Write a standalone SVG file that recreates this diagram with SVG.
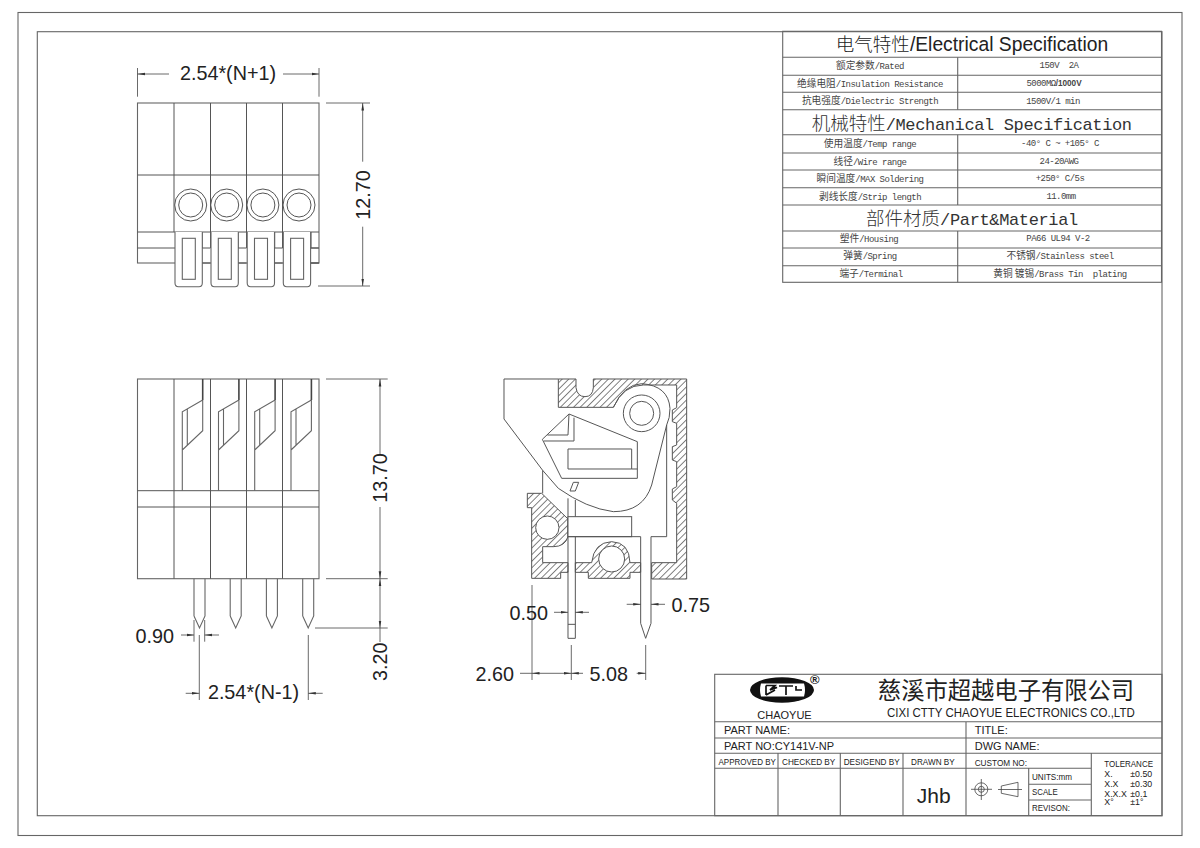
<svg xmlns="http://www.w3.org/2000/svg" width="1200" height="848" viewBox="0 0 1200 848">
<style>
.l{fill:none;stroke:#555;stroke-width:1}
.t{fill:none;stroke:#666;stroke-width:1.1}
.f{fill:#fff;stroke:#666;stroke-width:1.1}
.k{fill:none;stroke:#444;stroke-width:1.6}
.d{fill:none;stroke:#444;stroke-width:.8}
.da{fill:none;stroke:#444;stroke-width:.8;marker-end:url(#ar)}
.w{fill:#fff;stroke:#555;stroke-width:3}
.wn{fill:none;stroke:#555;stroke-width:3}
.hz{fill:url(#hatch);stroke:#555;stroke-width:3}
text{font-family:"Liberation Sans","Noto Sans CJK SC",sans-serif;fill:#222}
.dim{font-size:19.8px}
.r{font-family:"Liberation Mono","Noto Sans CJK SC",monospace;font-size:9px;letter-spacing:-.53px;text-anchor:middle;fill:#444}
.r .c{font-family:"Noto Sans CJK SC",sans-serif;font-size:9.7px;letter-spacing:0}
.r .b{font-family:"Liberation Sans",sans-serif;font-weight:bold;font-size:8.2px;letter-spacing:0}
.h{text-anchor:middle}
.h .c{font-family:"Noto Sans CJK SC",sans-serif;font-size:18.5px;font-weight:300;letter-spacing:0}
.hs{font-family:"Liberation Sans","Noto Sans CJK SC",sans-serif;font-size:19.3px}
.hm{font-family:"Liberation Mono","Noto Sans CJK SC",monospace;font-size:17px;letter-spacing:-.36px;fill:#333}
.s{font-size:11px}
.x{font-size:8.8px}
</style>
<defs>
<marker id="ar" markerUnits="userSpaceOnUse" markerWidth="8" markerHeight="4" refX="7.5" refY="2" orient="auto"><path d="M0 0.7L7.5 2L0 3.3z" fill="#333"/></marker>
<pattern id="hatch" patternUnits="userSpaceOnUse" width="14" height="14" patternTransform="rotate(-45)"><rect width="14" height="14" fill="#fff"/><line x1="0" y1="1.2" x2="14" y2="1.2" stroke="#555" stroke-width="2.4"/></pattern>
<g id="tab">
<path class="f" d="M175 232V283Q175 286.7 178.5 286.7H199Q202.3 286.7 202.3 283V232"/>
<rect class="t" x="182.3" y="238.3" width="13" height="41"/>
<path class="l" d="M202.3 248H210.5M202.3 263H210.5"/>
<circle class="l" cx="190.7" cy="205" r="16"/>
<circle class="l" cx="190.7" cy="205" r="12"/>
</g>
<g id="spr">
<path class="k" d="M202.7 379V400"/>
<path class="t" d="M202.7 400L182.3 411.7V490.7M202.7 400V430.7L182.3 450M187.3 409V445"/>
<path class="t" d="M194 616V578.7M205 578.7V616L199.5 628L194 616"/>
</g>
</defs>

<g id="frame">
<rect class="t" x="18" y="12.5" width="1164" height="823"/>
<rect class="t" x="37.3" y="31.7" width="1124.7" height="784"/>
</g>

<g id="top-view">
<rect class="t" x="137.5" y="103" width="181.5" height="160"/>
<path class="l" d="M174 103V232M210.5 103V248M246.5 103V248M282.5 103V248M137.5 175H319M137.5 232H319M137.5 248H175"/>
<path class="l" d="M202.3 232V248M238.3 232V248M274.7 232V248M311 232V248H319M311 263H319"/>
<use href="#tab"/>
<use href="#tab" x="36"/>
<use href="#tab" x="72.2"/>
<use href="#tab" x="108.3"/>
</g>

<g id="front-view">
<rect class="t" x="137.5" y="379" width="181.5" height="199.7"/>
<path class="l" d="M174 379V578.7M210.5 379V578.7M246.5 379V578.7M282.5 379V578.7M137.5 490.7H319M137.5 507H319"/>
<use href="#spr"/>
<use href="#spr" x="36.2"/>
<use href="#spr" x="72.4"/>
<use href="#spr" x="108.7"/>
</g>

<g id="section" transform="translate(470 365) scale(.33333)">
<path class="wn" d="M265 42H102V162L218 316"/>
<path class="hz" d="M265 42H318V68Q322 95 345 95Q368 95 370 68V42H650V642H545V593H620V415L607 405V372L620 365V290L607 285V245L620 240V175L607 170V135L620 128V60H520Q460 60 430 127H265Z"/>
<path class="hz" d="M172 385H215L294 462V515Q285 545 250 545H218V593H294V622H272V640H185V428H172Z"/>
<path class="hz" d="M316 593H365Q372 532 425 530Q478 532 480 593H512V622H480V640H355V622H316Z"/>
<circle class="w" cx="232" cy="488" r="35"/>
<circle class="w" cx="425" cy="582" r="39"/>
<path class="wn" d="M430 127Q462 58 515 56Q595 62 600 130Q600 160 590 180L545 360Q520 440 430 440Q350 430 265 370L218 316V385"/>
<circle class="wn" cx="515" cy="145" r="55"/>
<circle class="wn" cx="515" cy="145" r="36"/>
<path class="wn" d="M297 147L502 230V340H275L217 223Z"/>
<path class="wn" d="M297 147L294 210H232M312 158V228H222"/>
<path class="wn" d="M294 252H485V312H294ZM485 312H502"/>
<path class="wn" d="M310 352H326L316 378H300Z"/>
<path class="wn" d="M294 400V820H316V405M294 778H316"/>
<rect class="w" x="294" y="455" width="191" height="60"/>
<path class="wn" d="M294 515H485" stroke-width="5"/>
<path class="wn" d="M485 515H512V775L527 820L543 775V515H590V180"/>
</g>

<g id="dimensions">
<path class="d" d="M137.5 68V96.7M319 68V96.7M326 103H370M318 286H370M326 379H387.7M326 578.7H387.7M315 628H387.7"/>
<path class="da" d="M169 74H137.5"/><path class="da" d="M283 74H319"/>
<path class="da" d="M362.7 161.7V103"/><path class="da" d="M362.7 226.7V286"/>
<path class="da" d="M380 455V379"/>
<path class="da" d="M380 507V578.7"/>
<path class="da" d="M380 603V578.7"/><path class="da" d="M380 603V628"/><path class="d" d="M380 628V642"/>
<path class="d" d="M194 620V641.7M204.7 620V641.7M199.3 635V700M308.3 635V700"/>
<path class="da" d="M181 635H194"/><path class="da" d="M219 635H204.7"/>
<path class="da" d="M185.7 693.3H199.3"/><path class="da" d="M322.7 693.3H308.3"/>
<path class="d" d="M532 585V680M571.3 645V680M645.7 645V680"/>
<path class="da" d="M554 612.3H568"/><path class="da" d="M589 612.3H575.3"/>
<path class="da" d="M626.7 604.3H640.7"/><path class="da" d="M665 604.3H651"/>
<path class="d" d="M520 673.3H532"/><path class="da" d="M551 673.3H532"/><path class="da" d="M551 673.3H571.3"/>
<path class="da" d="M583 673.3H571.3"/><path class="da" d="M636.7 673.3H645.7"/>
<text class="dim" x="228" y="80" text-anchor="middle">2.54*(N+1)</text>
<text class="dim" transform="translate(369.5 195) rotate(-90)" text-anchor="middle">12.70</text>
<text class="dim" transform="translate(387 478) rotate(-90)" text-anchor="middle">13.70</text>
<text class="dim" transform="translate(387 661.7) rotate(-90)" text-anchor="middle">3.20</text>
<text class="dim" x="135.5" y="643">0.90</text>
<text class="dim" x="253.5" y="698.5" text-anchor="middle">2.54*(N-1)</text>
<text class="dim" x="509.5" y="619.5">0.50</text>
<text class="dim" x="671.5" y="611.5">0.75</text>
<text class="dim" x="475.5" y="680.5">2.60</text>
<text class="dim" x="589.5" y="680.5">5.08</text>
</g>

<g id="spec-table">
<rect class="t" x="782.7" y="31.3" width="378.8" height="251"/>
<path class="t" d="M782.7 57.3H1161.5M782.7 75.3H1161.5M782.7 92.3H1161.5M782.7 109.7H1161.5M782.7 134.7H1161.5M782.7 153H1161.5M782.7 170H1161.5M782.7 187.7H1161.5M782.7 205H1161.5M782.7 231H1161.5M782.7 248H1161.5M782.7 265.7H1161.5"/>
<path class="t" d="M957.7 57.3V109.7M957.7 134.7V205M957.7 231V282.3"/>
<text class="h hs" x="972" y="51"><tspan class="c">电气特性</tspan>/Electrical Specification</text>
<text class="h hm" x="971.7" y="129.5"><tspan class="c">机械特性</tspan>/Mechanical Specification</text>
<text class="h hm" x="972" y="224.5"><tspan class="c">部件材质</tspan>/Part&amp;Material</text>
<text class="r" x="870" y="69"><tspan class="c">额定参数</tspan>/Rated</text>
<text class="r" x="1059" y="68">150V&#160;&#160;2A</text>
<text class="r" x="870" y="87"><tspan class="c">绝缘电阻</tspan>/Insulation Resistance</text>
<text class="r" x="1054" y="86">5000MΩ<tspan class="b">/1000V</tspan></text>
<text class="r" x="870" y="104"><tspan class="c">抗电强度</tspan>/Dielectric Strength</text>
<text class="r" x="1053" y="103.5">1500V/1 min</text>
<text class="r" x="870" y="147"><tspan class="c">使用温度</tspan>/Temp range</text>
<text class="r" x="1060" y="146">-40° C ~ +105° C</text>
<text class="r" x="870" y="164.5"><tspan class="c">线径</tspan>/Wire range</text>
<text class="r" x="1059" y="163.5">24-20AWG</text>
<text class="r" x="870" y="182"><tspan class="c">瞬间温度</tspan>/MAX Soldering</text>
<text class="r" x="1060" y="181">+250° C/5s</text>
<text class="r" x="870" y="199.5"><tspan class="c">剥线长度</tspan>/Strip length</text>
<text class="r" x="1061" y="198.5">11.0mm</text>
<text class="r" x="869" y="241.5"><tspan class="c">塑件</tspan>/Housing</text>
<text class="r" x="1058" y="240.5">PA66 UL94 V-2</text>
<text class="r" x="870" y="259"><tspan class="c">弹簧</tspan>/Spring</text>
<text class="r" x="1060" y="259"><tspan class="c">不锈钢</tspan>/Stainless steel</text>
<text class="r" x="871" y="276.5"><tspan class="c">端子</tspan>/Terminal</text>
<text class="r" x="1060" y="276.5"><tspan class="c">黄铜 镀锡</tspan>/Brass Tin&#160;&#160;plating</text>
</g>

<g id="title-block">
<rect class="t" x="714.7" y="674.3" width="447.3" height="141.4"/>
<path class="t" d="M714.7 721.7H1162M714.7 738H1162M714.7 753.3H1162M714.7 768.3H966M778 753.3V815.7M840.3 753.3V815.7M903 753.3V815.7M966 721.7V815.7M1091.3 753.3V815.7M1028.7 768.3V815.7M966 768.3H1091.3M1028.7 784.3H1091.3M1028.7 800H1091.3"/>
<g id="logo">
<ellipse cx="782" cy="690" rx="32" ry="12.8" fill="#111"/>
<path d="M761 683.5H804Q806 690 804 696.5H761Q759 690 761 683.5Z" fill="#fff"/>
<path d="M766 685.5V695M766 685.5H775L770 690L777 687.5H772M766 695L775 690M779 686H793M786 686V695M796 686V690H802" fill="none" stroke="#111" stroke-width="1.7"/>
<text x="814.7" y="684" font-size="13" text-anchor="middle" font-weight="bold">®</text>
</g>
<text x="784.5" y="719" font-size="11" text-anchor="middle">CHAOYUE</text>
<text x="1006" y="699" font-size="23.3" text-anchor="middle" style="font-family:'Noto Sans CJK SC',sans-serif">慈溪市超越电子有限公司</text>
<text x="887" y="717" font-size="12.5" textLength="247.7" lengthAdjust="spacingAndGlyphs">CIXI CTTY CHAOYUE ELECTRONICS CO.,LTD</text>
<text class="s" x="724" y="734">PART NAME:</text>
<text class="s" x="974.7" y="734">TITLE:</text>
<text class="s" x="724" y="750">PART NO:CY141V-NP</text>
<text class="s" x="974.7" y="750">DWG NAME:</text>
<text class="x" x="718.5" y="764.7" textLength="57.3" lengthAdjust="spacingAndGlyphs">APPROVED BY</text>
<text class="x" x="782" y="764.7" textLength="53.3" lengthAdjust="spacingAndGlyphs">CHECKED BY</text>
<text class="x" x="843.7" y="764.7" textLength="56" lengthAdjust="spacingAndGlyphs">DESIGEND BY</text>
<text class="x" x="911" y="764.7" textLength="43.7" lengthAdjust="spacingAndGlyphs">DRAWN BY</text>
<text class="x" x="974.7" y="765.7" textLength="52.3" lengthAdjust="spacingAndGlyphs">CUSTOM NO:</text>
<text class="x" x="1032" y="780" textLength="40" lengthAdjust="spacingAndGlyphs">UNITS:mm</text>
<text class="x" x="1032" y="795.3" textLength="25.7" lengthAdjust="spacingAndGlyphs">SCALE</text>
<text class="x" x="1032" y="811" textLength="38" lengthAdjust="spacingAndGlyphs">REVISON:</text>
<text class="x" x="1104.3" y="767" textLength="48.7" lengthAdjust="spacingAndGlyphs">TOLERANCE</text>
<text class="x" x="1104.3" y="777">X.</text><text class="x" x="1130.3" y="777">±0.50</text>
<text class="x" x="1104.3" y="786.5">X.X</text><text class="x" x="1130.3" y="786.5">±0.30</text>
<text class="x" x="1104.3" y="796.7">X.X.X</text><text class="x" x="1130.3" y="796.7">±0.1</text>
<text class="x" x="1104.3" y="805">X°</text><text class="x" x="1130.3" y="805">±1°</text>
<text x="933.7" y="802.5" font-size="21" text-anchor="middle">Jhb</text>
<g id="symbols">
<circle class="d" cx="981.3" cy="789.3" r="6.5"/><circle class="d" cx="981.3" cy="789.3" r="3"/>
<path class="d" d="M971 789.3H992M981.3 779V800"/>
<path class="d" d="M1001.3 786L1018 782.3V796.7L1001.3 793.3ZM998 789.5H1022"/>
</g>
</g>
</svg>
